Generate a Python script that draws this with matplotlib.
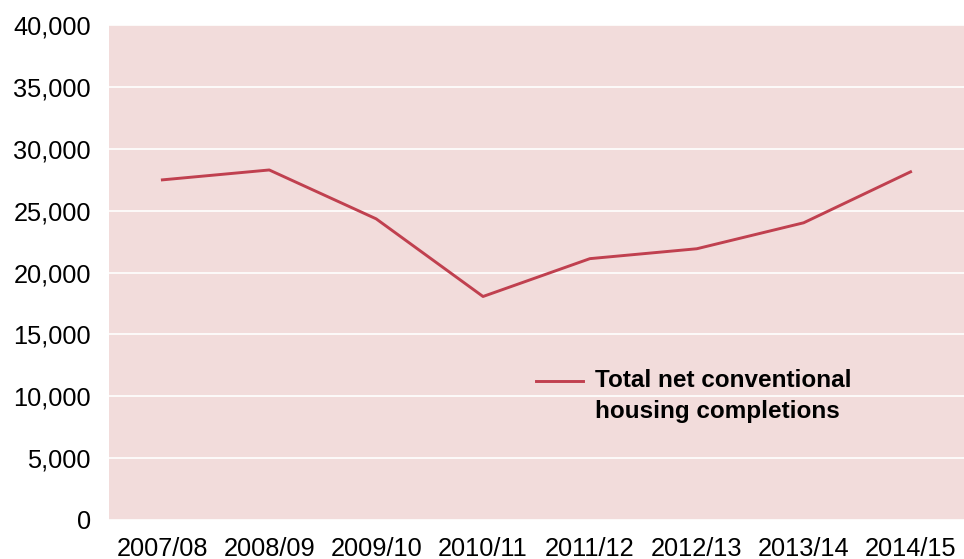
import matplotlib
matplotlib.use("Agg")
import matplotlib.pyplot as plt
from matplotlib.ticker import FuncFormatter

years = ['2007/08', '2008/09', '2009/10', '2010/11', '2011/12', '2012/13', '2013/14', '2014/15']
completions = [27500, 28300, 24350, 18070, 21130, 21930, 24030, 28150]

plt.rcParams['font.family'] = ['Liberation Sans', 'DejaVu Sans']

fig = plt.figure(figsize=(9.64, 5.59), dpi=100)
ax = fig.add_axes([0.113, 0.0698, 0.887, 0.885])
ax.set_facecolor('#f2dcdb')

x = range(len(years))
ax.plot(x, completions, color='#c0404f', linewidth=2.1,
        label='Total net conventional\nhousing completions')

ax.set_xlim(-0.5, len(years) - 0.5)
ax.set_ylim(0, 40000)
ax.set_yticks(range(0, 40001, 5000))
ax.yaxis.set_major_formatter(FuncFormatter(lambda v, p: f'{int(v):,}'))
ax.set_xticks(list(x))
ax.set_xticklabels(years)
ax.tick_params(axis='both', length=0, labelsize=18.3)
ax.tick_params(axis='y', pad=13)
ax.tick_params(axis='x', pad=12)
ax.grid(axis='y', color='white', linewidth=1.2)
ax.set_axisbelow(True)
for s in ax.spines.values():
    s.set_visible(False)

leg = ax.legend(loc='upper left', bbox_to_anchor=(0.50, 0.305), frameon=False,
                prop={'weight': 'bold', 'size': 17.5}, handlelength=1.9,
                handletextpad=0.5, borderpad=0, borderaxespad=0)
for t in leg.get_texts():
    t.set_linespacing(1.45)
# handle sits beside the first line of the label
hl = leg.get_lines()[0]
hl.set_ydata([v + 11 for v in hl.get_ydata()])

fig.savefig('out.png', dpi=100)
